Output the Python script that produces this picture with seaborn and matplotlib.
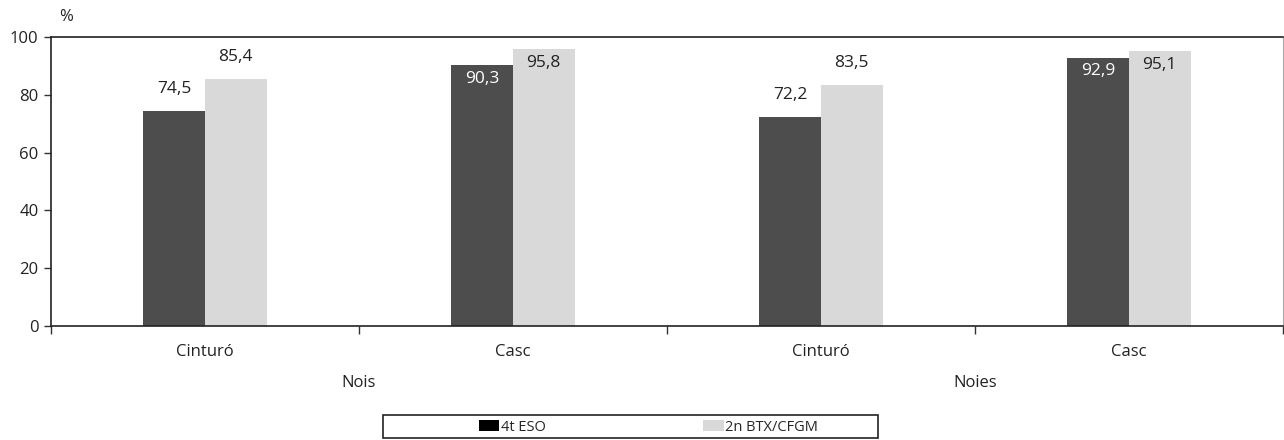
import matplotlib
matplotlib.use('Agg')
import matplotlib.pyplot as plt
import matplotlib.transforms as mtransforms
from matplotlib.patches import Patch, Rectangle
import seaborn as sns
import pandas as pd

groups = ['Nois', 'Nois', 'Noies', 'Noies']
areas = ['Cinturó', 'Casc', 'Cinturó', 'Casc']
eso_4t = [74.5, 90.3, 72.2, 92.9]
btx_2n = [85.4, 95.8, 83.5, 95.1]
series_names = ['4t ESO', '2n BTX/CFGM']
yticks = [0, 20, 40, 60, 80, 100]

dark = '#4d4d4d'
light = '#d9d9d9'

keys = [g + ' ' + a for g, a in zip(groups, areas)]
df = pd.DataFrame({
    'key': keys * 2,
    'serie': [series_names[0]] * 4 + [series_names[1]] * 4,
    'valor': eso_4t + btx_2n,
})

sns.set_style('white')
plt.rcParams['font.family'] = ['Open Sans', 'DejaVu Sans']

fig = plt.figure(figsize=(12.84, 4.40), dpi=100)
ax = fig.add_axes([51/1284, 1 - 326/440, 1232/1284, 289/440])

sns.barplot(data=df, x='key', y='valor', hue='serie', order=keys,
            hue_order=series_names, palette=[dark, light], width=0.4, gap=0,
            saturation=1, legend=False, ax=ax, edgecolor='none', linewidth=0)

ax.set_ylim(0, 100)
ax.set_xlim(-0.5, 3.5)
ax.set_xlabel('')
ax.set_ylabel('')
ax.set_yticks(yticks)
ax.set_yticklabels([str(t) for t in yticks], fontsize=12, color='#222222')
ax.tick_params(axis='y', left=True, length=5, width=1, color='#333333', pad=4)

ax.set_xticks(range(4))
ax.set_xticklabels(areas, fontsize=12, color='#222222')
ax.set_xticks([-0.5, 0.5, 1.5, 2.5, 3.5], minor=True)
ax.tick_params(axis='x', which='major', length=0, pad=13)
ax.tick_params(axis='x', which='minor', bottom=True, length=6, width=1, color='#333333')

for side in ['left', 'bottom', 'top']:
    ax.spines[side].set_color('#222222')
    ax.spines[side].set_linewidth(1.2)
ax.spines['right'].set_color('#aaaaaa')
ax.spines['right'].set_linewidth(0.8)

# value labels: above the bar, or inside the top for tall bars
for ci, cont in enumerate(ax.containers):
    for bar in cont:
        h = bar.get_height()
        xc = bar.get_x() + bar.get_width() / 2
        txt = f'{h:.1f}'.replace('.', ',')
        if h > 90:
            col = 'white' if ci == 0 else '#222222'
            ax.annotate(txt, (xc, h), xytext=(0, -4), textcoords='offset points',
                        ha='center', va='top', fontsize=12.5, color=col)
        else:
            ax.annotate(txt, (xc, h), xytext=(0, 10), textcoords='offset points',
                        ha='center', va='bottom', fontsize=12.5, color='#222222')

# group labels
trans = mtransforms.blended_transform_factory(ax.transData, ax.transAxes)
for gx, gname in [(0.5, 'Nois'), (2.5, 'Noies')]:
    ax.text(gx, -0.197, gname, transform=trans, ha='center', va='center',
            fontsize=12, color='#222222')

ax.text(0.007, 1.069, '%', transform=ax.transAxes, ha='left', va='center',
        fontsize=12, color='#222222')

# legend
handles = [Patch(facecolor='black', edgecolor='none'),
           Patch(facecolor=light, edgecolor='none')]
fig.legend(handles, series_names, loc='center left',
           bbox_to_anchor=(479/1284, 13/440), ncol=2, frameon=False,
           fontsize=10.5, handlelength=1.4, handleheight=0.7, handletextpad=0.1,
           columnspacing=10.8, borderpad=0, borderaxespad=0)
fig.patches.append(Rectangle((383/1284, 2/440), 495/1284, 23/440,
                             transform=fig.transFigure, fill=False,
                             edgecolor='#222222', linewidth=1.2))

fig.savefig('out.png', dpi=100)
